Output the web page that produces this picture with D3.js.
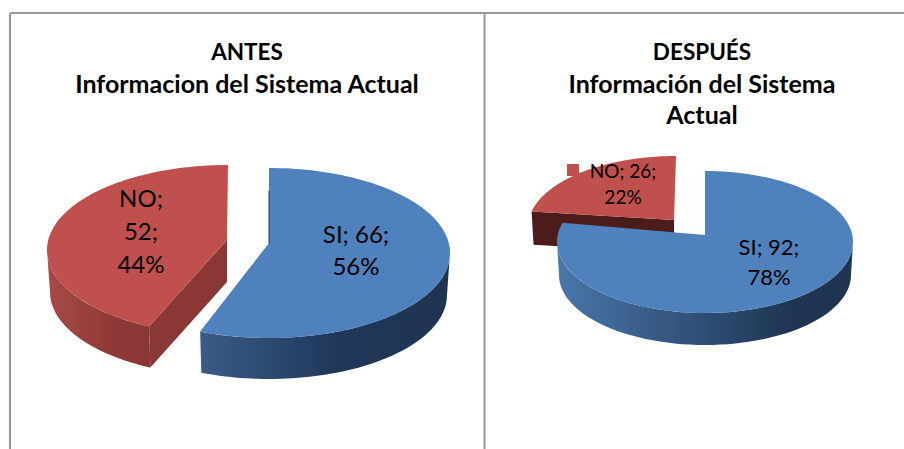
<!DOCTYPE html>
<html><head><meta charset="utf-8">
<script src="https://cdn.jsdelivr.net/npm/d3@7"></script>
<style>html,body{margin:0;padding:0;background:#fff}svg{display:block}</style>
</head><body><svg id="c" width="904" height="449"></svg>
<script>
const categories = ["SI", "NO"];
const antesValues = [66, 52];
const despuesValues = [92, 26];
const antesTitle = ["ANTES", "Informacion del Sistema Actual"];
const despuesTitle = ["DESPUÉS", "Información del Sistema", "Actual"];

const TOP = {SI: "#4f81bd", NO: "#c0504d"};
const svg = d3.select("#c");
const defs = svg.append("defs");
function grad(id, x1, x2, stops) {
  const g = defs.append("linearGradient").attr("id", id).attr("gradientUnits", "userSpaceOnUse")
    .attr("x1", x1).attr("x2", x2).attr("y1", 0).attr("y2", 0);
  stops.forEach(s => g.append("stop").attr("offset", s[0]).attr("stop-color", s[1]));
}
grad("bl", 200, 450, [[0, "#3a5c86"], [0.55, "#20375a"], [1, "#1e3450"]]);
grad("rl", 47, 150, [[0, "#a84a46"], [0.7, "#8c3836"], [1, "#8a3735"]]);
grad("br", 557, 853, [[0, "#4a76aa"], [0.5, "#2e4d74"], [0.8, "#1f3551"], [1, "#1e3450"]]);

const rad = d => d * Math.PI / 180;
const line = d3.line().x(d => d[0]).y(d => d[1]);

function drawPie(values, cfg) {
  const arcs = d3.pie().sort(null)(values);
  const g = svg.append("g");
  // NO slice is drawn first, SI lies over it
  [1, 0].forEach(i => {
    const a = arcs[i], s = cfg.slices[i], cat = categories[i];
    const angle = d3.scaleLinear().domain([a.startAngle, a.endAngle])
      .range([a.startAngle + rad(s.shift[0]), a.endAngle + rad(s.shift[1])]);
    const top = t => [s.cx + cfg.rx * Math.sin(t), s.cy - cfg.ry * Math.cos(t)];
    const bot = t => [s.cx + cfg.rxB * Math.sin(t), s.cy + cfg.depth - cfg.ryB * Math.cos(t)];
    const t0 = angle(a.startAngle), t1 = angle(a.endAngle);
    const apex = [s.cx + s.apexDx, s.cy - cfg.apexUp];
    const apexB = [apex[0], apex[1] + cfg.depth];
    // exposed cut face
    const tc = i === 0 ? t1 : t0;
    if (s.cut) {
      g.append("path").attr("d", line([top(tc), apex, apexB, bot(tc)]) + "Z").attr("fill", s.cut);
    }
    // outer wall: only the front half of the ellipse
    const w0 = Math.max(t0, Math.PI / 2), w1 = Math.min(t1, 3 * Math.PI / 2);
    if (w1 > w0) {
      const ts = d3.range(0, 61).map(k => w0 + (w1 - w0) * k / 60);
      g.append("path").attr("d", line(ts.map(top).concat(ts.slice().reverse().map(bot))) + "Z")
        .attr("fill", s.wall);
    }
    // top face
    const ts = d3.range(0, 121).map(k => t0 + (t1 - t0) * k / 120);
    g.append("path").attr("d", line(ts.map(top).concat([apex])) + "Z").attr("fill", TOP[cat]);
    if (s.edge) {
      g.append("path").attr("d", line([[apex[0], apex[1] - 52], apex]))
        .attr("stroke", s.edge).attr("stroke-width", 1).attr("fill", "none");
    }
    // label
    const total = d3.sum(values);
    const pct = Math.round(values[i] / total * 100) + "%";
    const parts = s.wrap ? [cat + ";", values[i] + ";", pct] : [cat + "; " + values[i] + ";", pct];
    parts.forEach((p, k) => {
      svg.append("text").attr("x", s.lx).attr("y", s.ly[k]).attr("text-anchor", "middle")
        .attr("font-family", "Lato").attr("font-size", s.fs).attr("fill", "#000").text(p);
    });
  });
}

function title(lines, x, ys) {
  lines.forEach((t, i) => svg.append("text").attr("x", x).attr("y", ys[i]).attr("text-anchor", "middle")
    .attr("font-family", "Lato").attr("font-weight", 700).attr("font-size", i === 0 ? 22.5 : 25).attr("fill", "#000").text(t));
}

drawPie(antesValues, {
  rx: 181, ry: 85, rxB: 178, ryB: 84, depth: 42, apexUp: 10,
  slices: [
    {cx: 269, cy: 253, apexDx: 0, shift: [0, 1], wall: "url(#bl)", cut: null, edge: "#1f3551",
     lx: 356, ly: [243, 275], fs: 24},
    {cx: 228, cy: 250, apexDx: -1, shift: [4.5, 0], wall: "url(#rl)", cut: "#8a3735", wrap: true,
     lx: 141, ly: [207, 240, 273], fs: 24}
  ]
});
drawPie(despuesValues, {
  rx: 148, ry: 71, rxB: 146, ryB: 70, depth: 33, apexUp: 7,
  slices: [
    {cx: 705, cy: 242, apexDx: 0, shift: [0, 5], wall: "url(#br)", cut: null,
     lx: 769, ly: [255, 285], fs: 22},
    {cx: 676, cy: 227, apexDx: -2, shift: [2, 0], wall: "#8a3735", cut: "#4b1c1a",
     lx: 623, ly: [178, 204], fs: 19}
  ]
});

svg.append("rect").attr("x", 567).attr("y", 164).attr("width", 12).attr("height", 12).attr("fill", TOP.NO);

title(antesTitle, 247, [60, 93]);
title(despuesTitle, 702, [60, 93, 124]);

svg.selectAll("line.f").data([[10, 13, 904, 13], [10, 13, 10, 449], [484.5, 13, 484.5, 449]]).enter().append("line")
  .attr("x1", d => d[0]).attr("y1", d => d[1]).attr("x2", d => d[2]).attr("y2", d => d[3])
  .attr("stroke", "#999").attr("stroke-width", 2);
</script></body></html>
